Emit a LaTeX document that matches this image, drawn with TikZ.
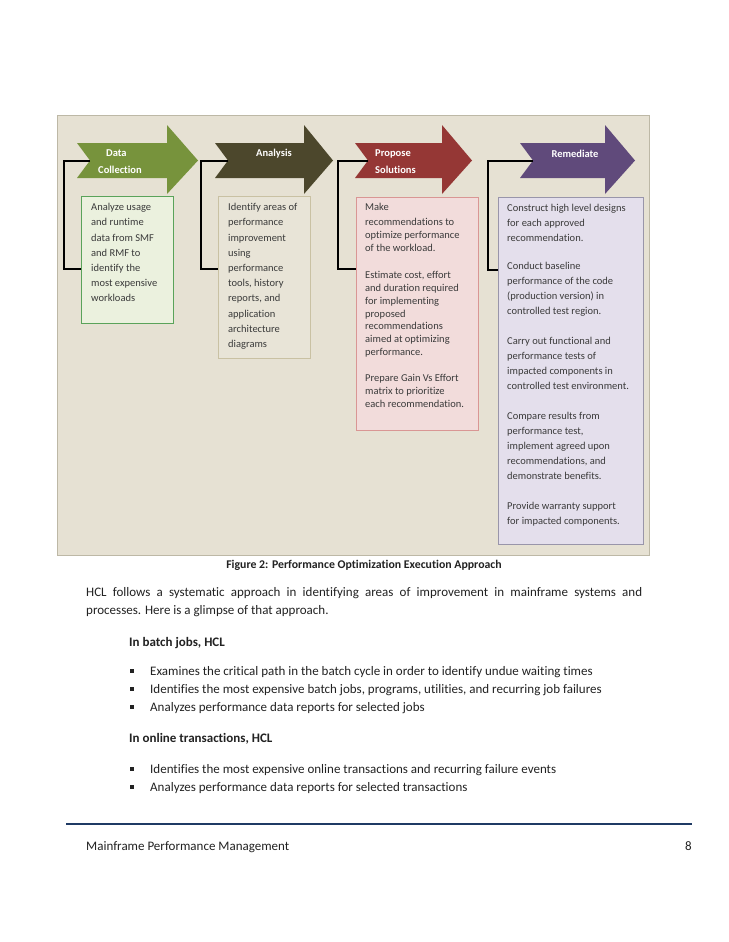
\documentclass[tikz,border=0pt]{standalone}
\usepackage{fontspec}
\setmainfont{Carlito}[Ligatures=NoCommon]
\definecolor{bgbeige}{HTML}{E6E1D3}
\definecolor{bgborder}{HTML}{BDB8A6}
\definecolor{arrgreen}{HTML}{77933C}
\definecolor{arrolive}{HTML}{4C472C}
\definecolor{arrred}{HTML}{953735}
\definecolor{arrpurple}{HTML}{604A7B}
\definecolor{dcfill}{HTML}{EBF1DE}
\definecolor{dcdraw}{HTML}{5AA35A}
\definecolor{anfill}{HTML}{E8E4D7}
\definecolor{andraw}{HTML}{C9C1A3}
\definecolor{psfill}{HTML}{F2DCDB}
\definecolor{psdraw}{HTML}{D99694}
\definecolor{rmfill}{HTML}{E4DFEC}
\definecolor{rmdraw}{HTML}{9995AA}
\definecolor{txtgray}{HTML}{3A3A3A}
\definecolor{bodytxt}{HTML}{222222}
\definecolor{footblue}{HTML}{1F3A64}
\newcommand{\firstln}{\rule{0pt}{9pt}}
\begin{document}
\begin{tikzpicture}[x=1pt,y=-1pt,
  boxtxt/.style={inner sep=0,anchor=north west,align=left,text=txtgray,font=\fontsize{10.5}{15.2}\selectfont},
  arrtxt/.style={inner sep=0,anchor=north,align=left,text=white,font=\bfseries\fontsize{10.5}{17}\selectfont},
  stepframe/.style={inner sep=0,anchor=north west,line width=0.8pt},
  bracket/.style={draw=black,line width=1.2pt},
  bodyline/.style={inner sep=0,anchor=base west,text=bodytxt,font=\fontsize{13}{15}\selectfont},
  bodyhead/.style={bodyline,font=\bfseries\fontsize{13}{15}\selectfont},
  sqbullet/.style={fill=bodytxt,inner sep=0,minimum size=4pt}]
\useasboundingbox[fill=white] (0,0) rectangle (728,942);

% diagram background
\node[draw=bgborder,fill=bgbeige,line width=0.8pt,inner sep=0,anchor=north west,
  minimum width=592pt,minimum height=440pt] (panel) at (57,115) {};

% arrows
\fill[arrgreen] (77,143) -- (167,143) -- (167,125) -- (198,160.5) -- (167,194) -- (167,178) -- (77,178) -- (90,160.5) -- cycle;
\coordinate (dcn) at (90,161);
\fill[arrolive] (215,143) -- (304,143) -- (304,125) -- (333,160.5) -- (304,194) -- (304,178) -- (215,178) -- (228,160.5) -- cycle;
\coordinate (ann) at (228,161);
\fill[arrred] (355,143) -- (442,143) -- (442,125) -- (472,160.5) -- (442,194) -- (442,178) -- (355,178) -- (368,160.5) -- cycle;
\coordinate (psn) at (368,161);
\fill[arrpurple] (520,143) -- (605,143) -- (605,125) -- (635,160.5) -- (605,194) -- (605,178) -- (520,178) -- (533,160.5) -- cycle;
\coordinate (rmn) at (533,161);

\node[arrtxt,anchor=north west] (dclabel) at (98,147) {\firstln\hspace{8pt}Data\\Collection};
\node[arrtxt] (anlabel) at (274,147) {\firstln Analysis};
\node[arrtxt,anchor=north west] (pslabel) at (375,147) {\firstln Propose\\Solutions};
\node[arrtxt] (rmlabel) at (575,148) {\firstln Remediate};

% boxes
\node[stepframe,draw=dcdraw,fill=dcfill,minimum width=92pt,minimum height=127pt] (dcbox) at (81,196) {};
\node[stepframe,draw=andraw,fill=anfill,minimum width=92pt,minimum height=162pt] (anbox) at (218,196) {};
\node[stepframe,draw=psdraw,fill=psfill,minimum width=122pt,minimum height=233pt] (psbox) at (355.5,197) {};
\node[stepframe,draw=rmdraw,fill=rmfill,minimum width=145pt,minimum height=347pt] (rmbox) at (498,197) {};

% brackets
\coordinate (dcL) at (64,269);
\coordinate (anL) at (201,269);
\coordinate (psL) at (338,269);
\coordinate (rmL) at (488,270);
\draw[bracket] (dcn) -| (dcL) -- (dcL -| dcbox.west);
\draw[bracket] (ann) -| (anL) -- (anL -| anbox.west);
\draw[bracket] (psn) -| (psL) -- (psL -| psbox.west);
\draw[bracket] (rmn) -| (rmL) -- (rmL -| rmbox.west);

% box texts
\node[boxtxt] (dctext) at (91,201.5) {\firstln Analyze usage\\and runtime\\data from SMF\\and RMF to\\identify the\\most expensive\\workloads};
\node[boxtxt] (antext) at (228,201.5) {\firstln Identify areas of\\performance\\improvement\\using\\performance\\tools, history\\reports, and\\application\\architecture\\diagrams};
\node[boxtxt,font=\fontsize{10.5}{12.8}\selectfont] (pstext) at (365,201.5) {\firstln Make\\[2.2pt]recommendations to\\optimize performance\\of the workload.\\[14.6pt]Estimate cost, effort\\and duration required\\for implementing\\proposed\\recommendations\\aimed at optimizing\\performance.\\[13.4pt]Prepare Gain Vs Effort\\matrix to prioritize\\each recommendation.};
\node[boxtxt,font=\fontsize{10.5}{15}\selectfont] (rmtext) at (507,202.5) {\firstln Construct high level designs\\for each approved\\recommendation.\\[13pt]Conduct baseline\\performance of the code\\(production version) in\\controlled test region.\\[15pt]Carry out functional and\\performance tests of\\impacted components in\\controlled test environment.\\[15pt]Compare results from\\performance test,\\implement agreed upon\\recommendations, and\\demonstrate benefits.\\[15pt]Provide warranty support\\for impacted components.};

% caption
\node[inner sep=0,anchor=base,text=bodytxt,font=\bfseries\fontsize{11.8}{13}\selectfont] (caption) at (364,568) {Figure 2: Performance Optimization Execution Approach};

% body text
\node[bodyline] (p1) at (86,596) {\makebox[556pt][s]{HCL follows a systematic approach in identifying areas of improvement in mainframe systems and}};
\node[bodyline] (p2) at (86,614) {processes. Here is a glimpse of that approach.};
\node[bodyhead] (h1) at (129,646) {In batch jobs, HCL};
\node[sqbullet] (b1) at (132,671) {};
\node[bodyline] (t1) at (150,675) {Examines the critical path in the batch cycle in order to identify undue waiting times};
\node[sqbullet] (b2) at (132,689) {};
\node[bodyline] (t2) at (150,693) {Identifies the most expensive batch jobs, programs, utilities, and recurring job failures};
\node[sqbullet] (b3) at (132,707) {};
\node[bodyline] (t3) at (150,711) {Analyzes performance data reports for selected jobs};
\node[bodyhead] (h2) at (129,742) {In online transactions, HCL};
\node[sqbullet] (b4) at (132,769) {};
\node[bodyline] (t4) at (150,773) {Identifies the most expensive online transactions and recurring failure events};
\node[sqbullet] (b5) at (132,787) {};
\node[bodyline] (t5) at (150,791) {Analyzes performance data reports for selected transactions};

% footer
\coordinate (fl) at (66,824);
\coordinate (fr) at (692,824);
\draw[footblue,line width=2pt] (fl) -- (fr);
\node[bodyline] (foot) at (86,850) {Mainframe Performance Management};
\node[bodyline,anchor=base east] (pageno) at (692,850) {8};
\end{tikzpicture}
\end{document}
